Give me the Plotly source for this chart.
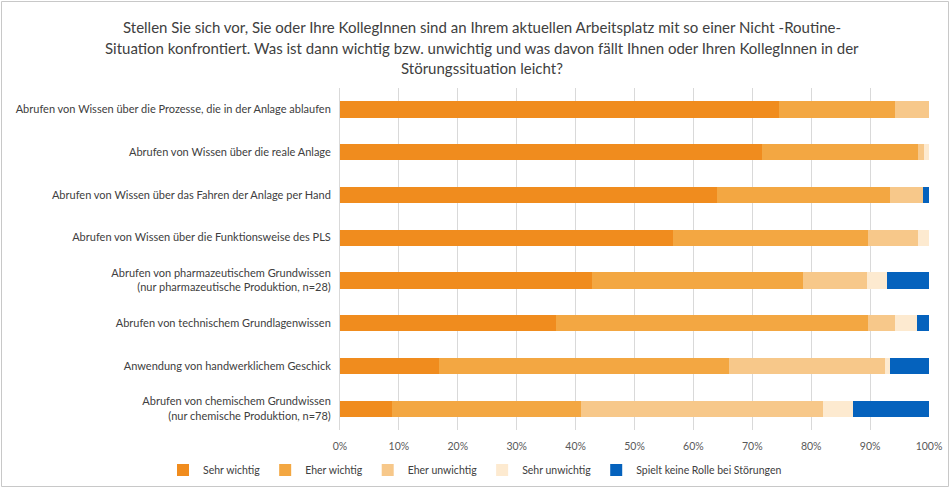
import plotly.graph_objects as go

categories = [
    "Abrufen von Wissen über die Prozesse, die in der Anlage ablaufen",
    "Abrufen von Wissen über die reale Anlage",
    "Abrufen von Wissen über das Fahren der Anlage per Hand",
    "Abrufen von Wissen über die Funktionsweise des PLS",
    "Abrufen von pharmazeutischem Grundwissen<br>(nur pharmazeutische Produktion, n=28)",
    "Abrufen von technischem Grundlagenwissen",
    "Anwendung von handwerklichem Geschick",
    "Abrufen von chemischem Grundwissen<br>(nur chemische Produktion, n=78)",
]

sehr_wichtig = [74.6, 71.6, 64.0, 56.6, 42.7, 36.7, 16.8, 8.9]
eher_wichtig = [19.7, 26.5, 29.4, 33.0, 35.9, 52.9, 49.2, 32.0]
eher_unwichtig = [5.7, 1.0, 5.6, 8.5, 10.8, 4.7, 26.6, 41.1]
sehr_unwichtig = [0.0, 0.9, 0.0, 1.9, 3.4, 3.7, 0.8, 5.1]
keine_rolle = [0.0, 0.0, 1.0, 0.0, 7.2, 2.0, 6.6, 12.9]

series_names = ["Sehr wichtig", "Eher wichtig", "Eher unwichtig", "Sehr unwichtig",
                "Spielt keine Rolle bei Störungen"]
series_values = [sehr_wichtig, eher_wichtig, eher_unwichtig, sehr_unwichtig, keine_rolle]
colors = ["#F08C1E", "#F3A742", "#F7C88A", "#FDEAD0", "#0562BD"]

tick_vals = [0, 10, 20, 30, 40, 50, 60, 70, 80, 90, 100]
tick_text = [f"{v}%" for v in tick_vals]

title_lines = [
    "Stellen Sie sich vor, Sie oder Ihre KollegInnen sind an Ihrem aktuellen Arbeitsplatz mit so einer Nicht -Routine-",
    "Situation konfrontiert. Was ist dann wichtig bzw. unwichtig und was davon fällt Ihnen oder Ihren KollegInnen in der",
    "Störungssituation leicht?",
]

W, H = 950, 488
ML, MR, MT, MB = 340, 21, 88, 58
PW, PH = W - ML - MR, H - MT - MB

def py(pix):
    return 1 - (pix - MT) / PH

def px(pix):
    return (pix - ML) / PW

fig = go.Figure()
for name, vals, col in zip(series_names, series_values, colors):
    fig.add_trace(go.Bar(
        y=categories, x=vals, name=name, orientation="h",
        marker=dict(color=col, line=dict(width=0)),
    ))

font_family = "Lato, 'Open Sans', sans-serif"
for i, (line, ypix) in enumerate(zip(title_lines, [27, 48, 68])):
    fig.add_annotation(
        text=line, xref="paper", yref="paper", x=px(482), y=py(ypix),
        xanchor="center", yanchor="middle", showarrow=False,
        font=dict(family=font_family, size=15, color="#404040"),
    )

fig.add_shape(type="rect", xref="paper", yref="paper",
              x0=px(1.5), x1=px(W - 1.5), y0=py(H - 1.5), y1=py(1.5),
              line=dict(color="#C8C8C8", width=1), fillcolor="rgba(0,0,0,0)", layer="below")

fig.update_layout(
    width=W, height=H,
    margin=dict(l=ML, r=MR, t=MT, b=MB, autoexpand=False),
    barmode="stack", bargap=0.62,
    paper_bgcolor="white", plot_bgcolor="white",
    font=dict(family=font_family, size=10, color="#404040"),
    showlegend=True,
    legend=dict(orientation="h", xref="paper", yref="paper",
                x=px(163), xanchor="left", y=py(470), yanchor="middle",
                font=dict(size=10.5, color="#404040"), traceorder="normal",
                itemwidth=30, bgcolor="rgba(0,0,0,0)"),
    xaxis=dict(range=[0, 100], tickvals=tick_vals, ticktext=tick_text,
               showgrid=True, gridcolor="#D9D9D9", gridwidth=1,
               zeroline=False, showline=False, ticks="", ticklabelstandoff=8,
               tickfont=dict(size=10.5, color="#595959"), fixedrange=True),
    yaxis=dict(autorange="reversed", showgrid=False, zeroline=False,
               showline=True, linecolor="#D9D9D9", ticks="",
               ticklabelstandoff=6,
               tickfont=dict(size=11, color="#404040"), fixedrange=True),
)

fig.write_html("out.html")
